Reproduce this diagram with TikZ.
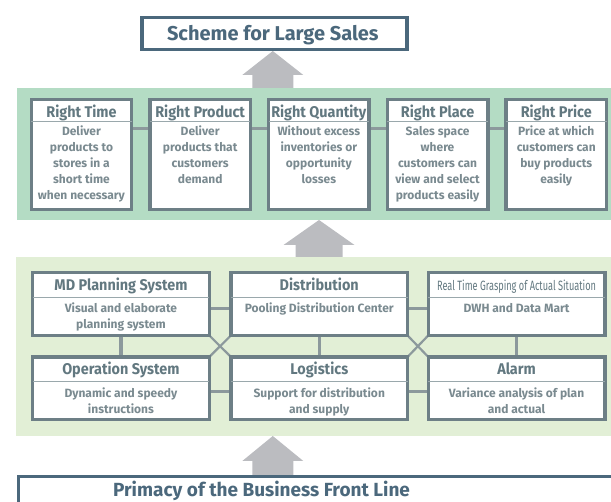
\documentclass[tikz,border=0pt]{standalone}
\usepackage{fontspec}
\setmainfont{Fira Sans}
\newfontfamily\narrowfont{Fira Sans}[FakeStretch=0.68]
\newfontfamily\condbold{Fira Sans}[FakeStretch=0.93]
\pgfdeclarelayer{bg}
\pgfsetlayers{bg,main}
\definecolor{mintpanel}{HTML}{B4DCC4}
\definecolor{palepanel}{HTML}{E2EFD6}
\definecolor{boxline}{HTML}{6D7F86}
\definecolor{sepline}{HTML}{9AA8AC}
\definecolor{linkline}{HTML}{8C999C}
\definecolor{arrowgrey}{HTML}{BBBCC0}
\definecolor{titleblue}{HTML}{4B687C}
\definecolor{headtext}{HTML}{627880}
\definecolor{bodytext}{HTML}{7A8A90}
\tikzset{
  panel/.style={draw=none},
  blockarrow/.style={fill=arrowgrey, draw=none},
  framebox/.style={draw=titleblue, line width=3.4pt, fill=white},
  ubox/.style={draw=boxline, line width=3.4pt, fill=white, anchor=north west,
    inner sep=0pt, outer sep=0pt, minimum width=100.5pt, minimum height=110.2pt},
  lbox/.style={draw=boxline, line width=3.4pt, fill=white, anchor=north west,
    inner sep=0pt, outer sep=0pt, minimum width=176.5pt, minimum height=62.7pt},
  sep/.style={draw=sepline, line width=1pt},
  link/.style={draw=linkline, line width=3.3pt},
  cross/.style={draw=linkline, line width=2.2pt},
  headlabel/.style={anchor=base, inner sep=0pt, text=headtext,
    font=\condbold\bfseries\fontsize{15.5}{18}\selectfont},
  bodylabel/.style={anchor=north, inner sep=0pt, text=bodytext, align=center,
    font=\bfseries\fontsize{12}{16}\selectfont},
  titlelabel/.style={anchor=base, inner sep=0pt, text=titleblue,
    font=\bfseries\fontsize{19}{22}\selectfont},
}
\begin{document}
\begin{tikzpicture}[x=1pt, y=-1pt]
\useasboundingbox (0,0) rectangle (611,502);

% ---- title and foundation boxes
\node[framebox, minimum width=265pt, minimum height=32pt, anchor=north west, inner sep=0pt]
  (scheme) at (140.3,16) {};
\node[titlelabel, font=\bfseries\fontsize{20}{22}\selectfont] (schemetext) at (272.8,40.5)
  {Scheme for Large Sales};

\node[framebox, minimum width=620pt, minimum height=60pt, anchor=north west, inner sep=0pt]
  (front) at (17,475) {};
\node[titlelabel] (fronttext) at (261.5,497) {Primacy of the Business Front Line};

% ---- upper row: the five rights
\node[ubox] (rtime)  at (31.2,99.5) {};
\node[ubox] (rprod)  at (149.9,99.5) {};
\node[ubox] (rquant) at (268.6,99.5) {};
\node[ubox] (rplace) at (387.3,99.5) {};
\node[ubox] (rprice) at (506.0,99.5) {};

\foreach \b/\h in {rtime/Right Time, rprod/Right Product, rquant/Right Quantity,
                   rplace/Right Place, rprice/Right Price}{
  \node[headlabel] at ([yshift=-17.8pt]\b.north) {\h};
  \draw[sep] ([yshift=-22.2pt]\b.north west) -- ([yshift=-22.2pt]\b.north east);
}
\node[bodylabel] at ([yshift=-25pt]rtime.north)
  {\strut Deliver\\products to\\stores in a\\short time\\when necessary};
\node[bodylabel] at ([yshift=-25pt]rprod.north)
  {\strut Deliver\\products that\\customers\\demand};
\node[bodylabel] at ([yshift=-25pt]rquant.north)
  {\strut Without excess\\inventories or\\opportunity\\losses};
\node[bodylabel] at ([yshift=-25pt]rplace.north)
  {\strut Sales space\\where\\customers can\\view and select\\products easily};
\node[bodylabel] at ([yshift=-25pt]rprice.north)
  {\strut Price at which\\customers can\\buy products\\easily};

% ---- lower grid: systems
\node[lbox] (mdplan) at (32.7,272.7) {};
\node[lbox] (distr)  at (231.0,272.7) {};
\node[lbox] (realt)  at (428.3,272.7) {};
\node[lbox] (oper)   at (32.7,357) {};
\node[lbox] (logi)   at (231.0,357) {};
\node[lbox] (alarm)  at (428.3,357) {};

\foreach \b in {mdplan,distr,realt,oper,logi,alarm}{
  \draw[sep] ([yshift=-25pt]\b.north west) -- ([yshift=-25pt]\b.north east);
}
\node[headlabel] at ([yshift=-18pt]mdplan.north) {MD Planning System};
\node[headlabel] at ([yshift=-18pt]distr.north) {Distribution};
\node[headlabel, font=\narrowfont\fontsize{13.5}{16}\selectfont]
  at ([yshift=-18pt]realt.north) {Real Time Grasping of Actual Situation};
\node[headlabel] at ([yshift=-18pt]oper.north) {Operation System};
\node[headlabel] at ([yshift=-18pt]logi.north) {Logistics};
\node[headlabel] at ([yshift=-18pt]alarm.north) {Alarm};

\node[bodylabel] at ([yshift=-28.8pt]mdplan.north)
  {\strut Visual and elaborate\\planning system};
\node[bodylabel] at ([yshift=-28.8pt]distr.north)
  {\strut Pooling Distribution Center};
\node[bodylabel] at ([yshift=-28.8pt]realt.north)
  {\strut DWH and Data Mart};
\node[bodylabel] at ([yshift=-28.8pt]oper.north)
  {\strut Dynamic and speedy\\instructions};
\node[bodylabel] at ([yshift=-28.8pt]logi.north)
  {\strut Support for distribution\\and supply};
\node[bodylabel] at ([yshift=-28.8pt]alarm.north)
  {\strut Variance analysis of plan\\and actual};

% ---- background: panels, block arrows and links
\begin{pgfonlayer}{bg}
  \fill[palepanel] (16,257) rectangle (611,436);
  \fill[mintpanel] (17,88) rectangle (611,220);

  \fill[blockarrow] (272.8,51) -- (303.3,75) -- (293.3,75) -- (293.3,88)
    -- (252.3,88) -- (252.3,75) -- (242.3,75) -- cycle;
  \fill[blockarrow] (319,220) -- (354.5,245) -- (342.7,245) -- (342.7,257)
    -- (295.7,257) -- (295.7,245) -- (283.5,245) -- cycle;
  \fill[blockarrow] (272.8,436) -- (303.3,461) -- (293.3,461) -- (293.3,475)
    -- (252.3,475) -- (252.3,461) -- (242.3,461) -- cycle;

  \draw[link] ([yshift=-28.8pt]rtime.north east)  -- ([yshift=-28.8pt]rprod.north west);
  \draw[link] ([yshift=-28.8pt]rprod.north east)  -- ([yshift=-28.8pt]rquant.north west);
  \draw[link] ([yshift=-28.8pt]rquant.north east) -- ([yshift=-28.8pt]rplace.north west);
  \draw[link] ([yshift=-28.8pt]rplace.north east) -- ([yshift=-28.8pt]rprice.north west);

  \draw[link] ([yshift=-35.6pt]mdplan.north east) -- ([yshift=-35.6pt]distr.north west);
  \draw[link] ([yshift=-35.6pt]distr.north east)  -- ([yshift=-35.6pt]realt.north west);
  \draw[link] ([yshift=-34.7pt]oper.north east)   -- ([yshift=-34.7pt]logi.north west);
  \draw[link] ([yshift=-34.7pt]logi.north east)   -- ([yshift=-34.7pt]alarm.north west);

  \draw[link] (mdplan.south) -- (oper.north);
  \draw[link] (distr.south)  -- (logi.north);
  \draw[link] (realt.south)  -- (alarm.north);

  \draw[cross] (mdplan.south east) -- (logi.north west);
  \draw[cross] (distr.south west)  -- (oper.north east);
  \draw[cross] (distr.south east)  -- (alarm.north west);
  \draw[cross] (realt.south west)  -- (logi.north east);
\end{pgfonlayer}
\end{tikzpicture}
\end{document}
